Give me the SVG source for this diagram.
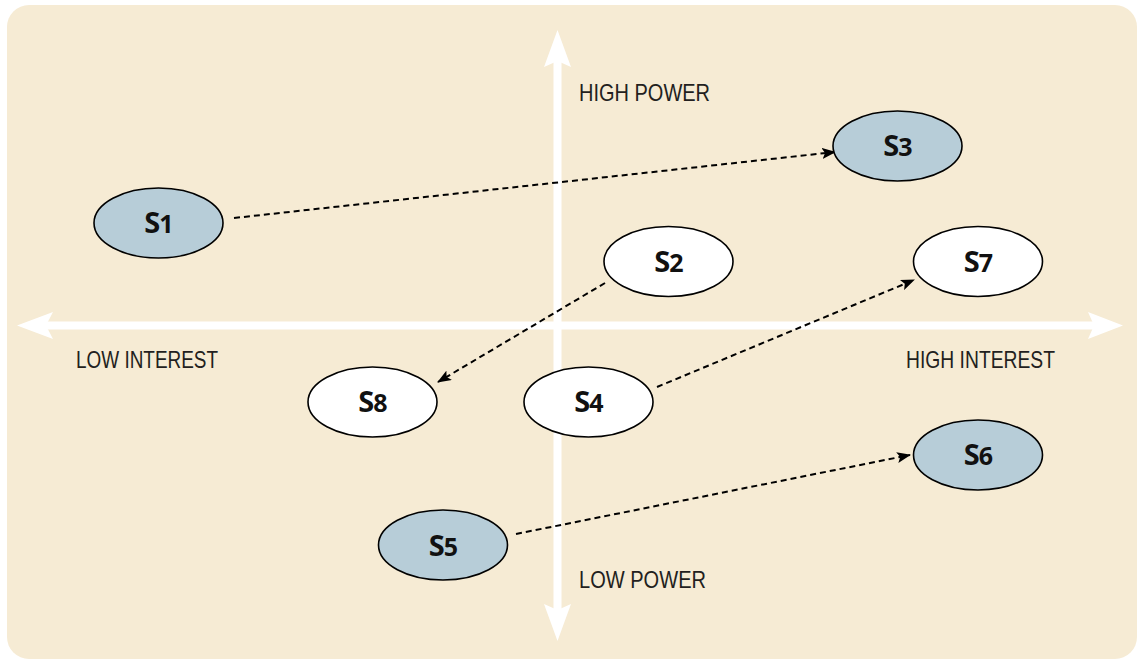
<svg xmlns="http://www.w3.org/2000/svg" width="1138" height="661" viewBox="0 0 1138 661">
<style>
.node ellipse{stroke:#000;stroke-width:1.6}
.blue ellipse{fill:#B7CDD8}
.white ellipse{fill:#FFFFFF}
.lbl{font-family:"Open Sans","Liberation Sans",sans-serif;font-weight:bold;font-size:29px;fill:#111;text-anchor:middle;letter-spacing:-1px}
.lbl tspan{font-size:25px}
.axis{stroke:#FFFFFF;stroke-width:8;fill:none}
.head{fill:#FFFFFF}
.axlbl{font-family:"Liberation Sans",Arial,sans-serif;font-size:24px;fill:#231F20}
.conn{stroke:#000;stroke-width:2;stroke-dasharray:6 4;fill:none}
</style>
<defs>
<marker id="ah" viewBox="0 0 14 11" refX="13" refY="5.5" markerWidth="14" markerHeight="11" markerUnits="userSpaceOnUse" orient="auto">
<path d="M0,0 L14,5.5 L0,11 L3,5.5 Z" fill="#000"/>
</marker>
</defs>
<rect x="7" y="5" width="1130" height="654" rx="22" ry="22" fill="#F6EBD4"/>
<g id="axes">
<line class="axis" x1="46" y1="325.5" x2="1094" y2="325.5"/>
<line class="axis" x1="557.5" y1="61" x2="557.5" y2="610"/>
<polygon class="head" points="17,325.5 53,312 46,325.5 53,339"/>
<polygon class="head" points="1123,325.5 1088,312 1094,325.5 1088,339"/>
<polygon class="head" points="557.5,30 544,67 557.5,61 571,67"/>
<polygon class="head" points="557.5,641 544,604 557.5,610 571,604"/>
<text class="axlbl" x="579" y="101" textLength="131" lengthAdjust="spacingAndGlyphs">HIGH POWER</text>
<text class="axlbl" x="579" y="588" textLength="127" lengthAdjust="spacingAndGlyphs">LOW POWER</text>
<text class="axlbl" x="76" y="368" textLength="142" lengthAdjust="spacingAndGlyphs">LOW INTEREST</text>
<text class="axlbl" x="906" y="368" textLength="149" lengthAdjust="spacingAndGlyphs">HIGH INTEREST</text>
</g>
<g id="connectors">
<line class="conn" x1="234" y1="218" x2="835" y2="152" marker-end="url(#ah)"/>
<line class="conn" x1="605" y1="283" x2="438" y2="382" marker-end="url(#ah)"/>
<line class="conn" x1="657" y1="387" x2="914" y2="280" marker-end="url(#ah)"/>
<line class="conn" x1="516" y1="534" x2="910" y2="455" marker-end="url(#ah)"/>
</g>
<g id="S1" class="node blue"><ellipse cx="158.5" cy="223" rx="64.5" ry="35"/><text class="lbl" x="158.5" y="233">S<tspan>1</tspan></text></g>
<g id="S3" class="node blue"><ellipse cx="897.5" cy="146" rx="64.5" ry="35"/><text class="lbl" x="897.5" y="156">S<tspan>3</tspan></text></g>
<g id="S2" class="node white"><ellipse cx="668.5" cy="261.5" rx="64.5" ry="35"/><text class="lbl" x="668.5" y="271.5">S<tspan>2</tspan></text></g>
<g id="S7" class="node white"><ellipse cx="978" cy="261.5" rx="64.5" ry="35"/><text class="lbl" x="978" y="271.5">S<tspan>7</tspan></text></g>
<g id="S8" class="node white"><ellipse cx="372.5" cy="402" rx="64.5" ry="35"/><text class="lbl" x="372.5" y="412">S<tspan>8</tspan></text></g>
<g id="S4" class="node white"><ellipse cx="588.5" cy="402" rx="64.5" ry="35"/><text class="lbl" x="588.5" y="412">S<tspan>4</tspan></text></g>
<g id="S6" class="node blue"><ellipse cx="978" cy="455" rx="64.5" ry="35"/><text class="lbl" x="978" y="465">S<tspan>6</tspan></text></g>
<g id="S5" class="node blue"><ellipse cx="443" cy="545" rx="64.5" ry="35"/><text class="lbl" x="443" y="556">S<tspan>5</tspan></text></g>
</svg>
